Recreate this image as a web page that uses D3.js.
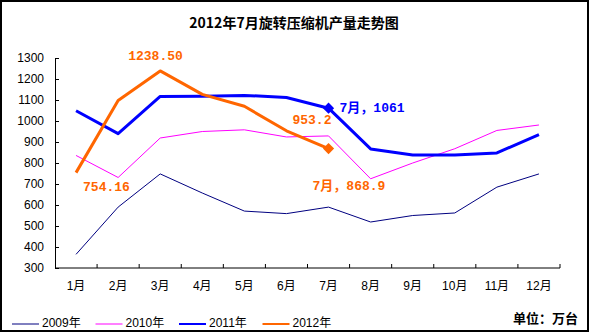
<!DOCTYPE html>
<html><head><meta charset="utf-8">
<script src="https://cdn.jsdelivr.net/npm/d3@7"></script>
<style>body{margin:0;background:#fff}svg{display:block}</style>
</head><body><svg id="c" width="589" height="333"></svg>
<script>
const months = ["1月","2月","3月","4月","5月","6月","7月","8月","9月","10月","11月","12月"];
const yTicks = [300,400,500,600,700,800,900,1000,1100,1200,1300];
const seriesNames = ["2009年","2010年","2011年","2012年"];
const s2009 = [365,590,748,657,571,559,590,519,550,562,685,748];
const s2010 = [836,731,919,950,958,924,929,725,800,868,955,981];
const s2011 = [1049,940,1117,1118,1122,1112,1061,867,838,838,848,935];
const s2012 = [754.16,1098,1238.50,1127,1070,953.2,868.9];
const colors = ["#000080","#FF00FF","#0000FF","#FF6600"];
const widths = [1,1,3,3];
const allSeries = [s2009,s2010,s2011,s2012];

const svg = d3.select("#c");
const font = "'Liberation Sans','Noto Sans CJK SC',sans-serif";
svg.append("rect").attr("x",1).attr("y",1).attr("width",587).attr("height",330)
  .attr("fill","#fff").attr("stroke","#000").attr("stroke-width",2);

svg.append("text").attr("x",294).attr("y",28).attr("text-anchor","middle")
  .attr("font-family","'Noto Sans CJK SC',sans-serif").attr("font-weight","bold").attr("font-size",14)
  .text("2012年7月旋转压缩机产量走势图");

const x = d3.scaleBand().domain(months).range([55,560]).padding(0);
const y = d3.scaleLinear().domain([300,1300]).range([268,58]);
const cx = m => x(m) + x.bandwidth()/2;

// y axis
const ya = svg.append("g").attr("transform","translate(55,0)")
  .call(d3.axisLeft(y).tickValues(yTicks).tickFormat(d3.format("d")).tickSizeInner(-4).tickSizeOuter(0).tickPadding(11));
ya.select(".domain").attr("stroke","#000");
ya.selectAll("text").attr("font-family",font).attr("font-size",12).attr("fill","#000");

// x axis
const xa = svg.append("g").attr("transform","translate(0,268)")
  .call(d3.axisBottom(x).tickSize(0).tickPadding(13));
xa.select(".domain").attr("stroke","#000").attr("d","M55,0H560");
xa.selectAll("text").attr("font-family",font).attr("font-size",12).attr("fill","#000");
svg.append("g").selectAll("line").data(months).join("line")
  .attr("x1",m=>x(m)+x.bandwidth()).attr("x2",m=>x(m)+x.bandwidth())
  .attr("y1",268).attr("y2",264).attr("stroke","#000");

// lines
const line = d3.line().x((d,i)=>cx(months[i])).y(d=>y(d));
allSeries.forEach((s,k)=>{
  svg.append("path").datum(s).attr("d",line).attr("fill","none")
    .attr("stroke",colors[k]).attr("stroke-width",widths[k]).attr("stroke-linejoin","round");
});
// markers at 7月
[[s2011,colors[2]],[s2012,colors[3]]].forEach(([s,c])=>{
  svg.append("path").attr("d",d3.symbol(d3.symbolDiamond2,80)())
    .attr("transform",`translate(${cx(months[6])},${y(s[6])})`)
    .attr("fill",c);
});

// data labels
const lf = "'Liberation Mono','Noto Sans CJK SC',monospace";
const labels = [
  {t:"1238.50", m:2, v:s2012[2], dx:-32, dy:-14, c:colors[3]},
  {t:"754.16", m:0, v:s2012[0], dx:7, dy:15, c:colors[3]},
  {t:"953.2", m:5, v:s2012[5], dx:6, dy:-10, c:colors[3]},
  {t:"7月，1061", m:6, v:s2011[6], dx:11, dy:0, c:colors[2]},
  {t:"7月，868.9", m:6, v:s2012[6], dx:-16, dy:38, c:colors[3]}
];
labels.forEach(l=>{
  svg.append("text").attr("x",cx(months[l.m])+l.dx).attr("y",y(l.v)+l.dy)
    .attr("dominant-baseline","central")
    .attr("font-family",lf).attr("font-weight","bold").attr("font-size",13)
    .attr("fill",l.c).text(l.t);
});

// legend
seriesNames.forEach((n,k)=>{
  const lx = 12 + k*83.5;
  svg.append("line").attr("x1",lx).attr("x2",lx+27).attr("y1",324).attr("y2",324)
    .attr("stroke",colors[k]).attr("stroke-width",k>=2?2:1);
  svg.append("text").attr("x",lx+30).attr("y",323).attr("dominant-baseline","central")
    .attr("font-family",font).attr("font-size",12).text(n);
});
svg.append("text").attr("x",513).attr("y",317).attr("dominant-baseline","central")
  .attr("font-family","'Noto Sans CJK SC',sans-serif").attr("font-weight","bold").attr("font-size",13)
  .text("单位：万台");
</script></body></html>
